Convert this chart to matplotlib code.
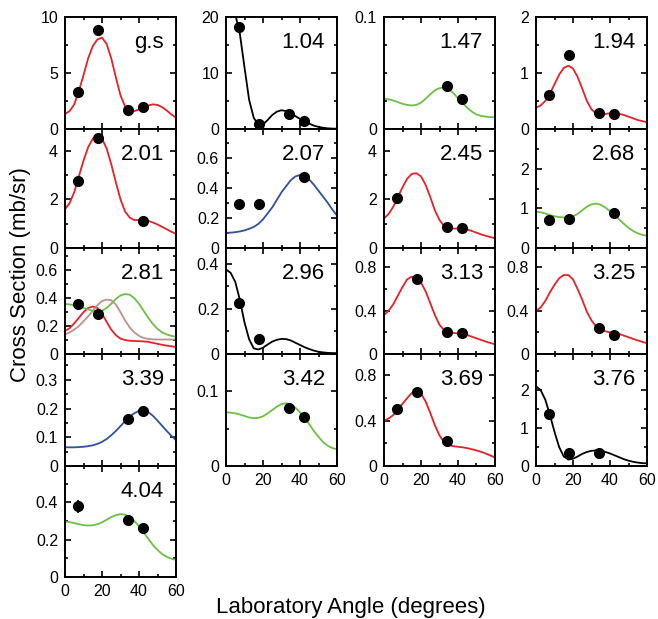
import matplotlib.pyplot as plt
from matplotlib.ticker import MultipleLocator, FormatStrFormatter

plt.rcParams['font.family'] = ['Liberation Sans', 'DejaVu Sans']

theory_angle = [0, 2.5, 5, 7.5, 10, 12.5, 15, 17.5, 20, 22.5, 25, 27.5, 30,
                32.5, 35, 37.5, 40, 42.5, 45, 47.5, 50, 52.5, 55, 57.5, 60]

# --- measured points and calculations, one state at a time ---
gs_x = [7, 18, 34, 42]
gs_y = [3.3, 8.8, 1.7, 1.95]
gs_fit = [1.35, 1.6, 2.2, 3.4, 4.8, 6.3, 7.4, 8.0, 8.15, 7.6, 6.3, 4.6, 3.0,
          2.0, 1.6, 1.6, 1.75, 1.95, 2.1, 2.2, 2.15, 1.95, 1.65, 1.3, 1.0]

e104_x = [7, 18, 34, 42]
e104_y = [18.3, 0.9, 2.7, 1.5]
e104_fit = [24, 22.5, 20.5, 17.0, 11.0, 5.2, 2.0, 0.7, 0.8, 1.6, 2.5, 3.1, 3.35,
            3.2, 2.8, 2.3, 1.8, 1.35, 0.95, 0.6, 0.38, 0.22, 0.12, 0.07, 0.05]

e147_x = [34, 42]
e147_y = [0.0385, 0.0265]
e147_fit = [0.027, 0.0265, 0.0255, 0.024, 0.0225, 0.0215, 0.021, 0.0215, 0.0235,
            0.027, 0.031, 0.0345, 0.0365, 0.037, 0.0355, 0.032, 0.0275, 0.023,
            0.019, 0.0155, 0.013, 0.0117, 0.011, 0.0106, 0.0105]

e194_x = [7, 18, 34, 42]
e194_y = [0.6, 1.33, 0.28, 0.26]
e194_fit = [0.38, 0.42, 0.5, 0.63, 0.8, 0.97, 1.09, 1.13, 1.08, 0.93, 0.72, 0.5,
            0.35, 0.28, 0.26, 0.27, 0.28, 0.28, 0.27, 0.25, 0.22, 0.19, 0.16, 0.14, 0.12]

e201_x = [7, 18, 42]
e201_y = [2.77, 4.55, 1.12]
e201_fit = [1.6, 1.85, 2.3, 2.95, 3.6, 4.15, 4.5, 4.6, 4.5, 4.1, 3.45, 2.7, 2.0,
            1.5, 1.25, 1.15, 1.15, 1.15, 1.12, 1.05, 0.97, 0.87, 0.77, 0.67, 0.58]

e207_x = [7, 18, 42]
e207_y = [0.293, 0.293, 0.47]
e207_fit = [0.1, 0.102, 0.105, 0.11, 0.117, 0.127, 0.14, 0.16, 0.19, 0.23, 0.27,
            0.32, 0.37, 0.41, 0.45, 0.475, 0.485, 0.48, 0.455, 0.42, 0.38, 0.34,
            0.3, 0.255, 0.215]

e245_x = [7, 34, 42]
e245_y = [2.05, 0.85, 0.81]
e245_fit = [1.22, 1.4, 1.7, 2.1, 2.5, 2.85, 3.05, 3.08, 2.95, 2.6, 2.1, 1.55, 1.15,
            0.9, 0.82, 0.8, 0.8, 0.79, 0.76, 0.7, 0.63, 0.56, 0.5, 0.45, 0.4]

e268_x = [7, 18, 42]
e268_y = [0.7, 0.73, 0.87]
e268_fit = [0.92, 0.9, 0.87, 0.83, 0.8, 0.78, 0.77, 0.77, 0.8, 0.86, 0.95, 1.04,
            1.1, 1.12, 1.09, 1.02, 0.93, 0.83, 0.72, 0.61, 0.51, 0.43, 0.37, 0.33, 0.31]

e281_x = [7, 18]
e281_y = [0.357, 0.29]
e281_fit_a = [0.165, 0.185, 0.22, 0.26, 0.3, 0.33, 0.34, 0.33, 0.29, 0.23, 0.175,
              0.135, 0.11, 0.1, 0.095, 0.093, 0.092, 0.09, 0.087, 0.08, 0.073,
              0.066, 0.06, 0.055, 0.05]
e281_fit_b = [0.14, 0.155, 0.175, 0.2, 0.235, 0.27, 0.31, 0.35, 0.38, 0.39, 0.385,
              0.355, 0.3, 0.24, 0.19, 0.155, 0.13, 0.115, 0.108, 0.105, 0.104,
              0.104, 0.104, 0.104, 0.104]
e281_fit_c = [0.36, 0.355, 0.35, 0.34, 0.33, 0.32, 0.31, 0.305, 0.31, 0.33, 0.36,
              0.395, 0.42, 0.43, 0.425, 0.4, 0.36, 0.31, 0.26, 0.215, 0.18, 0.155,
              0.14, 0.13, 0.124]

e296_x = [7, 18]
e296_y = [0.227, 0.067]
e296_fit = [0.375, 0.36, 0.32, 0.24, 0.14, 0.065, 0.025, 0.02, 0.028, 0.042, 0.055,
            0.063, 0.067, 0.066, 0.06, 0.05, 0.04, 0.03, 0.022, 0.015, 0.01, 0.007,
            0.005, 0.004, 0.004]

e313_x = [18, 34, 42]
e313_y = [0.69, 0.205, 0.197]
e313_fit = [0.36, 0.4, 0.46, 0.54, 0.62, 0.69, 0.715, 0.7, 0.66, 0.58, 0.47, 0.36,
            0.27, 0.22, 0.2, 0.195, 0.19, 0.185, 0.175, 0.16, 0.145, 0.13, 0.115,
            0.102, 0.09]

e325_x = [34, 42]
e325_y = [0.237, 0.18]
e325_fit = [0.4, 0.43, 0.49, 0.57, 0.64, 0.7, 0.73, 0.73, 0.69, 0.6, 0.5, 0.39,
            0.31, 0.255, 0.225, 0.21, 0.2, 0.195, 0.185, 0.17, 0.155, 0.14, 0.125,
            0.112, 0.1]

e339_x = [34, 42]
e339_y = [0.165, 0.19]
e339_fit = [0.065, 0.065, 0.065, 0.066, 0.067, 0.069, 0.072, 0.077, 0.084, 0.094,
            0.107, 0.122, 0.139, 0.156, 0.172, 0.184, 0.192, 0.194, 0.188, 0.175,
            0.158, 0.14, 0.122, 0.105, 0.09]

e342_x = [34, 42]
e342_y = [0.0775, 0.066]
e342_fit = [0.072, 0.0715, 0.0705, 0.069, 0.067, 0.065, 0.064, 0.0645, 0.0665,
            0.0705, 0.075, 0.0795, 0.083, 0.084, 0.0825, 0.078, 0.072, 0.0645,
            0.056, 0.047, 0.039, 0.032, 0.027, 0.024, 0.0225]

e369_x = [7, 18, 34]
e369_y = [0.5, 0.65, 0.225]
e369_fit = [0.4, 0.42, 0.45, 0.5, 0.55, 0.6, 0.645, 0.66, 0.64, 0.57, 0.47, 0.36,
            0.27, 0.21, 0.185, 0.175, 0.17, 0.165, 0.158, 0.148, 0.138, 0.125,
            0.11, 0.093, 0.075]

e376_x = [7, 18, 34]
e376_y = [1.36, 0.33, 0.35]
e376_fit = [2.1, 2.0, 1.75, 1.35, 0.9, 0.5, 0.25, 0.17, 0.19, 0.25, 0.32, 0.37, 0.4,
            0.41, 0.4, 0.37, 0.33, 0.28, 0.23, 0.18, 0.14, 0.11, 0.09, 0.075, 0.07]

e404_x = [7, 34, 42]
e404_y = [0.38, 0.306, 0.262]
e404_err = [0.035, 0.0, 0.0]
e404_fit = [0.297, 0.294, 0.289, 0.283, 0.278, 0.276, 0.277, 0.283, 0.293, 0.307,
            0.321, 0.332, 0.337, 0.334, 0.322, 0.3, 0.272, 0.24, 0.205, 0.172,
            0.145, 0.123, 0.108, 0.098, 0.092]

RED, GREEN, BLUE, BLACK, BROWN = '#e8202a', '#6dbf45', '#2f4f9f', 'black', '#bd918b'

# label, col, row, points x/y, curves, ylim, major y ticks, minor step
panels = [
    ('g.s',  0, 0, gs_x, gs_y, [(gs_fit, RED)], 10, [0, 5, 10], 2.5),
    ('2.01', 0, 1, e201_x, e201_y, [(e201_fit, RED)], 4.9, [0, 2, 4], 1),
    ('2.81', 0, 2, e281_x, e281_y, [(e281_fit_a, RED), (e281_fit_b, BROWN),
                                    (e281_fit_c, GREEN)], 0.76, [0, 0.2, 0.4, 0.6], 0.1),
    ('3.39', 0, 3, e339_x, e339_y, [(e339_fit, BLUE)], 0.39, [0, 0.1, 0.2, 0.3], 0.05),
    ('4.04', 0, 4, e404_x, e404_y, [(e404_fit, GREEN)], 0.595, [0, 0.2, 0.4], 0.1),
    ('1.04', 1, 0, e104_x, e104_y, [(e104_fit, BLACK)], 20, [0, 10, 20], 5),
    ('2.07', 1, 1, e207_x, e207_y, [(e207_fit, BLUE)], 0.79, [0, 0.2, 0.4, 0.6], 0.1),
    ('2.96', 1, 2, e296_x, e296_y, [(e296_fit, BLACK)], 0.47, [0, 0.2, 0.4], 0.1),
    ('3.42', 1, 3, e342_x, e342_y, [(e342_fit, GREEN)], 0.15, [0, 0.1], 0.05),
    ('1.47', 2, 0, e147_x, e147_y, [(e147_fit, GREEN)], 0.1, [0, 0.1], 0.025),
    ('2.45', 2, 1, e245_x, e245_y, [(e245_fit, RED)], 4.9, [0, 2, 4], 1),
    ('3.13', 2, 2, e313_x, e313_y, [(e313_fit, RED)], 0.98, [0, 0.4, 0.8], 0.2),
    ('3.69', 2, 3, e369_x, e369_y, [(e369_fit, RED)], 0.99, [0, 0.4, 0.8], 0.2),
    ('1.94', 3, 0, e194_x, e194_y, [(e194_fit, RED)], 2, [0, 1, 2], 0.5),
    ('2.68', 3, 1, e268_x, e268_y, [(e268_fit, GREEN)], 3.0, [0, 1, 2], 0.5),
    ('3.25', 3, 2, e325_x, e325_y, [(e325_fit, RED)], 0.98, [0, 0.4, 0.8], 0.2),
    ('3.76', 3, 3, e376_x, e376_y, [(e376_fit, BLACK)], 2.95, [0, 1, 2], 0.5),
]
last_row = {0: 4, 1: 3, 2: 3, 3: 3}

W, H = 658, 619
col_left = [65, 226, 384, 536]
col_w = 111
row_edges = [(17, 129), (129, 248), (248, 354), (354, 466), (466, 577)]

fig = plt.figure(figsize=(W / 100, H / 100), dpi=100)

for label, c, r, px, py, curves, ytop, yt, ymin_step in panels:
    top, bot = row_edges[r]
    ax = fig.add_axes([col_left[c] / W, 1 - bot / H, col_w / W, (bot - top) / H])
    for fit, color in curves:
        ax.plot(theory_angle, fit, color=color, lw=1.3)
    if label == '4.04':
        ax.errorbar(px, py, yerr=e404_err, fmt='o', color='black', ms=7,
                    elinewidth=1.2, capsize=0, zorder=5)
    else:
        ax.plot(px, py, 'o', color='black', ms=7, zorder=5)
    ax.set_xlim(0, 60)
    ax.set_ylim(0, ytop)
    ax.set_yticks(yt)
    ax.yaxis.set_minor_locator(MultipleLocator(ymin_step))
    ax.yaxis.set_major_formatter(FormatStrFormatter('%g'))
    ax.set_xticks([0, 20, 40, 60])
    ax.xaxis.set_minor_locator(MultipleLocator(10))
    ax.tick_params(which='both', direction='in', top=True, right=True,
                   width=1.2, labelsize=11.5)
    ax.tick_params(which='major', length=4.2, pad=5)
    ax.tick_params(which='minor', length=2.4)
    if r != last_row[c]:
        ax.tick_params(labelbottom=False)
    for s in ax.spines.values():
        s.set_linewidth(1.4)
    ax.annotate(label, xy=(1, 1), xycoords='axes fraction', xytext=(-12, -31),
                textcoords='offset pixels', ha='right', va='baseline', fontsize=16)

fig.text(21 / W, 1 - 275 / H, 'Cross Section (mb/sr)', rotation=90,
         ha='center', va='center', fontsize=16)
fig.text(351 / W, 1 - 608 / H, 'Laboratory Angle (degrees)',
         ha='center', va='center', fontsize=16)

fig.savefig('out.png', dpi=100)
